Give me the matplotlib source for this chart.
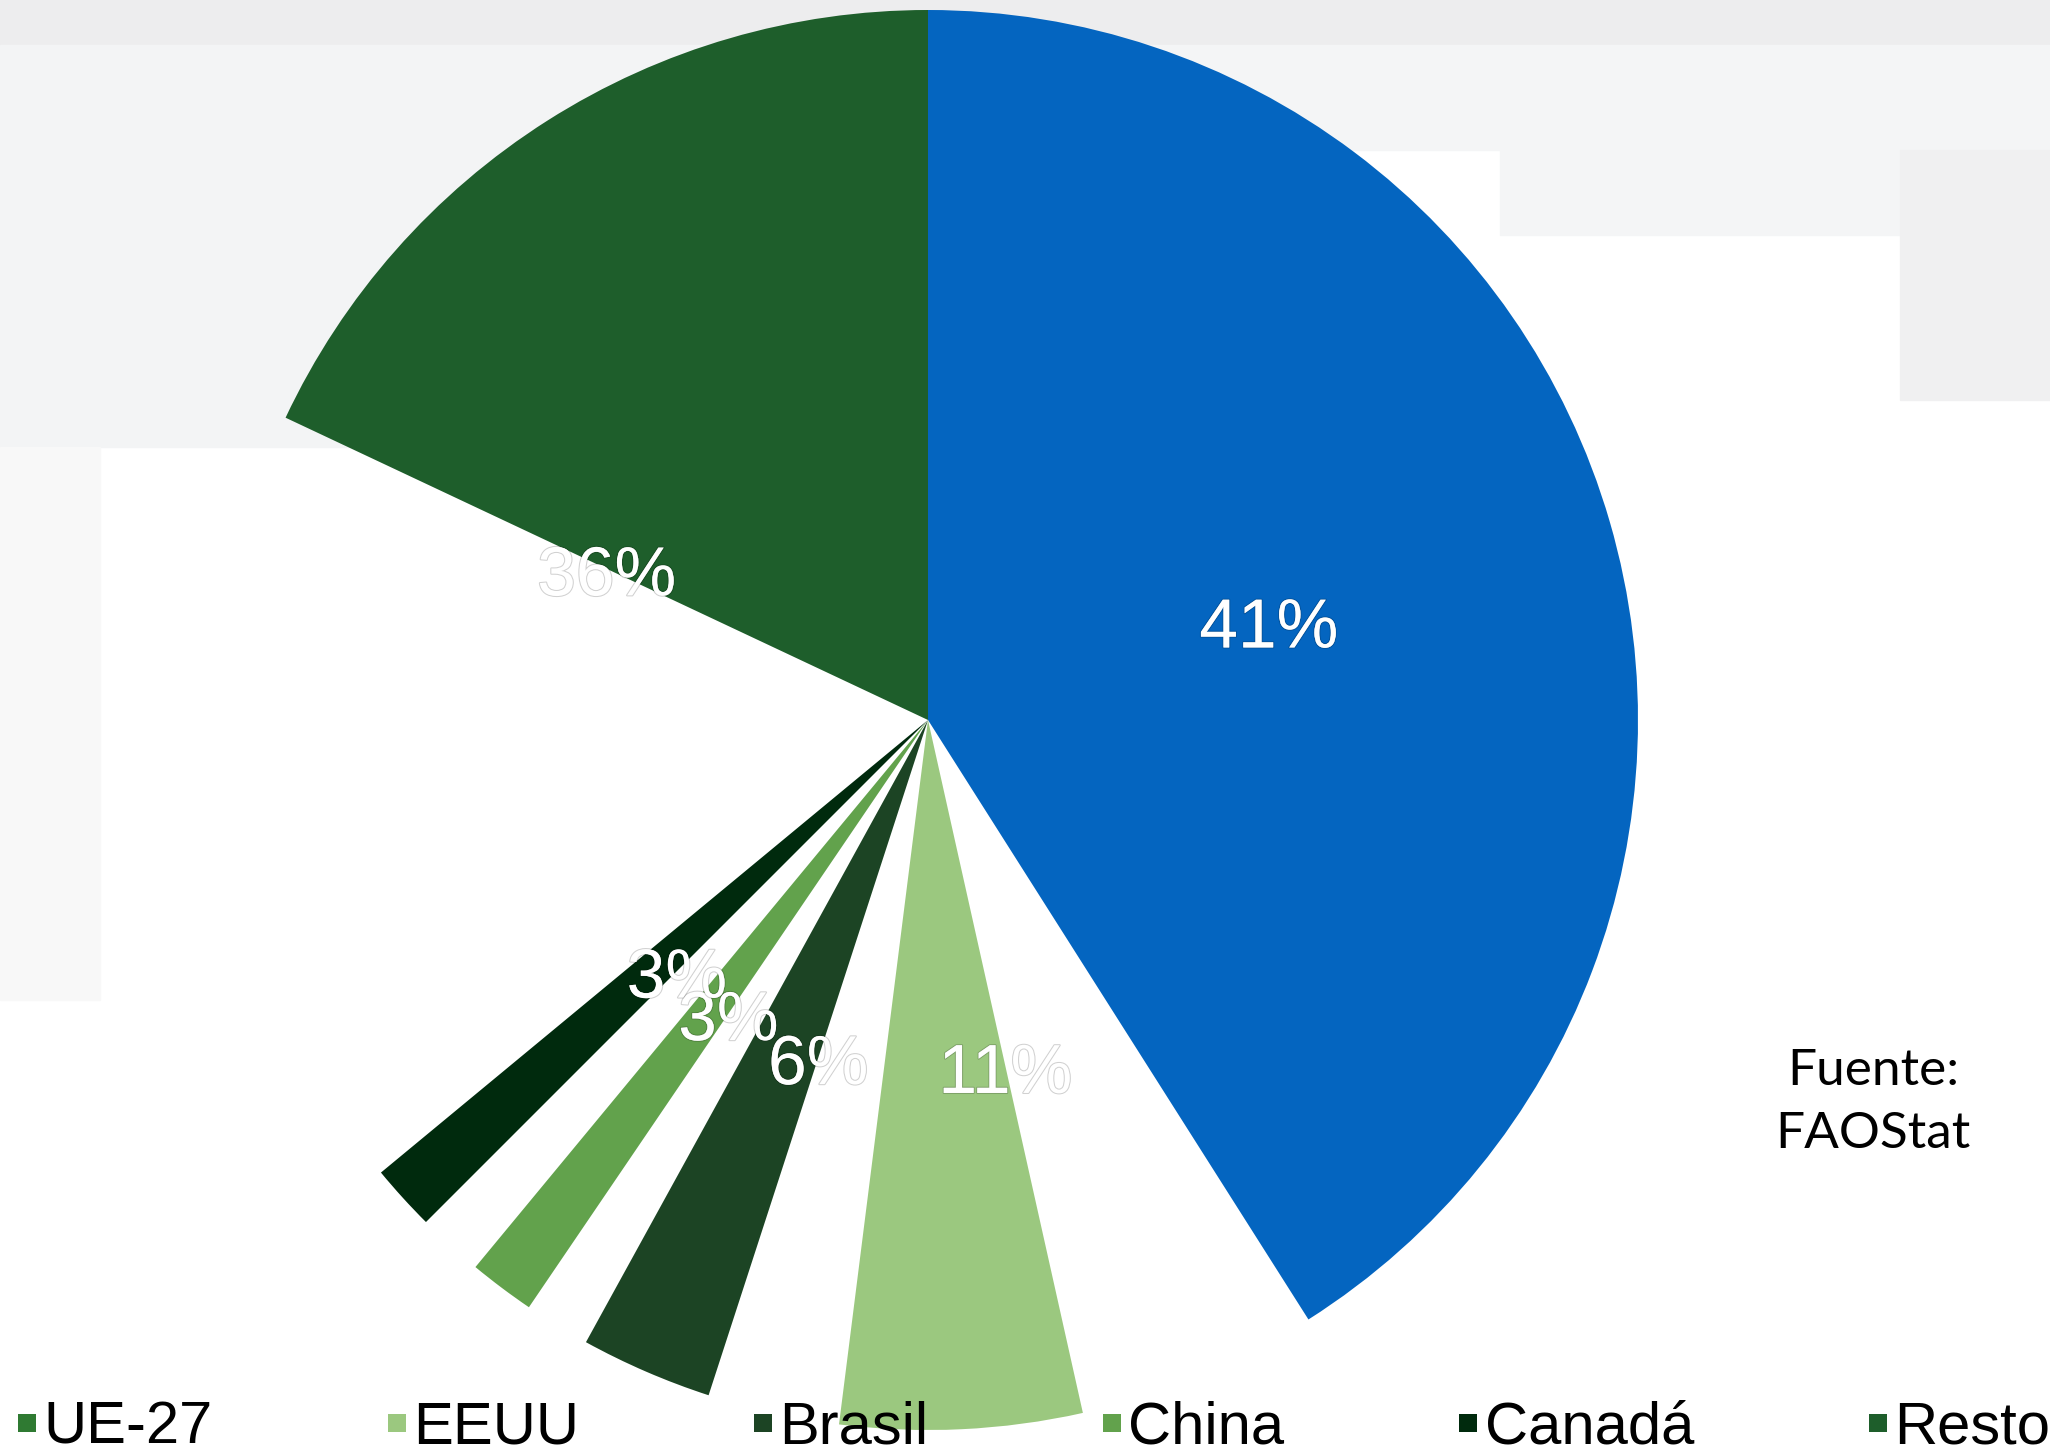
import matplotlib
matplotlib.use('Agg')
import matplotlib.pyplot as plt
from matplotlib.patches import Rectangle
from matplotlib.lines import Line2D
import matplotlib.patheffects as pe

# Data
countries = ['UE-27', 'EEUU', 'Brasil', 'China', 'Canadá', 'Resto']
shares = [41, 11, 6, 3, 3, 36]
slice_colors = ['#0465c0', '#9bc87f', '#1c4424', '#62a24c', '#002a0d', '#1e5e2b']
legend_colors = ['#2f7a32', '#9bc87f', '#1c4424', '#62a24c', '#002a0d', '#1e5e2b']
source_lines = ['Fuente:', 'FAOStat']

W, H = 2050, 1447
fig = plt.figure(figsize=(W / 100, H / 100), dpi=100)
fig.patch.set_facecolor('white')


def px_rect(x0, y0, x1, y1, color):
    # rectangle given in pixel coords from the top-left corner
    fig.patches.append(Rectangle((x0 / W, 1 - y1 / H), (x1 - x0) / W, (y1 - y0) / H,
                                 transform=fig.transFigure, color=color, zorder=-10))


# light grey slide background blocks
px_rect(0, 0, W, 45, '#ededee')
px_rect(0, 45, 930, 447, '#f3f4f5')
px_rect(930, 45, W, 150, '#f4f5f6')
px_rect(1500, 150, W, 235, '#f4f5f6')
px_rect(1900, 150, W, 400, '#f0f0f1')
px_rect(0, 447, 100, 1000, '#f8f8f8')

# pie centre (928, 720) px, radius 710 px
cx, cy, r = 928, 720, 710
ax = fig.add_axes([(cx - r) / W, (H - cy - r) / H, 2 * r / W, 2 * r / H])
ax.set_facecolor('none')
ax.set_zorder(1)

wedges, texts, autotexts = ax.pie(
    shares, colors=slice_colors, startangle=90, counterclock=False,
    autopct=lambda p: f'{p:.0f}%', pctdistance=0.5,
    textprops=dict(color='white', fontsize=50, family='Liberation Sans'),
    wedgeprops=dict(linewidth=0))

# only the trailing half of every slice after the first is painted
for w in wedges[1:]:
    w.set_theta2((w.theta1 + w.theta2) / 2)

for t in autotexts:
    x, y = t.get_position()
    t.set_position((x, y - 0.012))
    t.set_path_effects([pe.withStroke(linewidth=1.5, foreground=(0, 0, 0, 0.18))])

ax.set_xlim(-1, 1)
ax.set_ylim(-1, 1)
ax.axis('off')

handles = [Line2D([], [], marker='s', linestyle='none', markersize=13.5,
                  markerfacecolor=c, markeredgewidth=0) for c in legend_colors]
leg = fig.legend(handles, countries, loc='lower left', bbox_to_anchor=(17 / W, -9 / H),
                 ncol=6, frameon=False, handlelength=0.35, handletextpad=0.1,
                 columnspacing=2.9, borderpad=0, borderaxespad=0,
                 prop=dict(family='Liberation Sans', size=43))
leg.set_zorder(5)

fig.text(1873 / W, 1 - 1085 / H, source_lines[0], ha='center', va='baseline',
         fontsize=37, family='Lato', color='black')
fig.text(1873 / W, 1 - 1148 / H, source_lines[1], ha='center', va='baseline',
         fontsize=37, family='Lato', color='black')

fig.savefig('out.png', dpi=100)
